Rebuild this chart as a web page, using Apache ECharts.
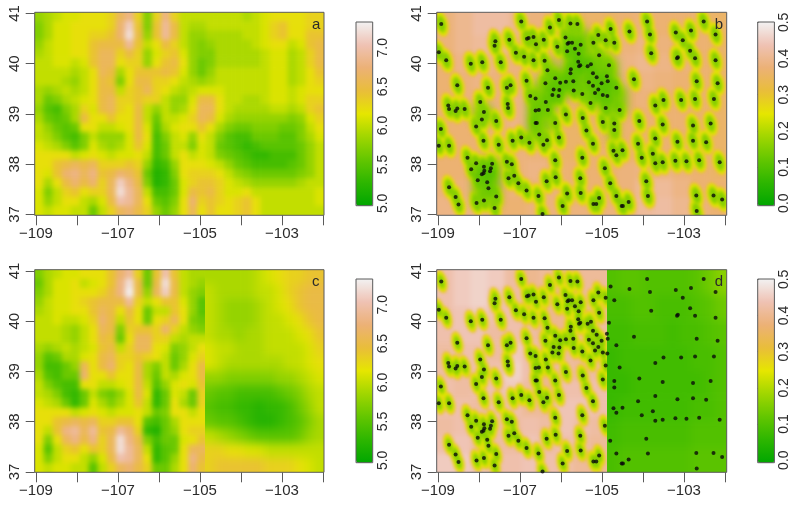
<!DOCTYPE html>
<html><head><meta charset="utf-8">
<style>html,body{margin:0;padding:0;background:#fff;width:800px;height:505px;overflow:hidden}
.clip,.layer,#fg{position:absolute;left:0;top:0;width:800px;height:505px}</style>
<script src="https://cdn.jsdelivr.net/npm/echarts@6/dist/echarts.min.js"></script>
</head><body>
<div id="root"></div>
<div id="fg"></div>
<script>
// ---------- data: surface values ----------
const panelATenths = [
[58,59,60,61,61,62,62,62,63,66,68,63,57,63,68,63,60,60,60,60,60,60,60,59,60,61,62,62,62,62,63,63],
[57,59,61,61,62,62,62,62,63,67,71,64,57,64,69,65,60,59,59,60,60,60,60,60,60,61,63,64,62,62,63,63],
[57,59,61,61,62,62,63,63,64,67,72,65,58,64,69,65,60,58,58,59,59,59,59,60,60,61,63,64,62,62,64,64],
[58,60,61,61,62,62,64,65,65,65,69,64,60,62,65,63,60,58,57,58,59,59,59,59,60,61,62,62,60,61,64,65],
[59,60,61,61,62,62,64,66,66,63,65,63,58,61,63,64,61,58,57,57,59,59,59,59,59,60,61,61,59,60,63,65],
[60,60,61,61,60,61,64,66,66,62,63,63,58,62,64,65,62,58,56,57,59,59,59,59,59,60,61,61,59,60,63,65],
[60,60,60,60,59,60,62,66,65,59,62,64,64,64,65,64,61,58,56,58,60,60,60,60,60,60,61,61,59,60,62,64],
[60,60,60,59,58,60,62,65,64,57,62,65,65,63,63,62,60,59,58,59,60,60,60,60,60,60,61,61,59,60,62,63],
[59,58,59,60,59,60,62,65,65,60,63,64,66,63,62,60,59,60,61,61,61,60,60,60,60,60,61,61,60,61,62,62],
[59,56,57,59,60,61,62,65,66,63,63,64,63,63,60,58,58,61,65,65,62,60,60,59,59,60,61,61,60,61,63,63],
[58,55,54,57,59,63,61,65,66,63,62,65,60,58,60,58,59,62,66,66,62,60,59,59,59,59,60,60,59,60,63,64],
[59,56,55,56,59,65,62,62,64,62,62,65,60,56,60,60,61,63,66,65,61,59,58,58,58,58,58,58,57,58,61,63],
[60,58,56,55,56,62,62,60,60,61,62,65,61,55,59,61,62,62,64,62,59,57,56,56,57,57,57,56,56,57,60,62],
[60,59,57,55,54,57,60,58,58,58,61,65,62,54,57,60,61,58,62,60,57,55,54,54,56,56,56,55,55,57,59,61],
[61,60,59,57,55,57,61,59,58,59,61,64,61,54,56,60,60,57,61,60,56,55,54,53,54,55,55,55,55,56,58,60],
[62,62,62,62,60,61,62,61,60,61,61,62,60,54,56,60,62,60,61,60,57,56,55,54,53,53,54,54,54,56,58,60],
[62,62,64,65,66,65,66,63,63,63,64,63,58,53,54,58,62,62,62,61,60,58,56,55,54,54,54,54,55,56,58,60],
[62,61,64,67,68,66,68,64,65,67,66,64,56,52,53,57,62,63,63,63,62,60,58,57,56,56,56,56,56,57,58,60],
[62,59,62,65,67,65,67,63,66,71,68,65,57,52,53,56,61,63,64,64,63,61,60,59,58,58,58,58,58,59,60,60],
[61,57,60,63,64,62,63,63,66,72,69,66,60,54,54,56,61,65,64,65,63,61,61,62,60,60,60,60,60,60,60,61],
[61,58,60,62,62,60,59,61,65,70,69,66,62,56,55,57,62,67,63,64,63,62,63,64,62,60,60,60,60,60,60,61],
[61,60,61,61,60,60,56,60,63,66,67,65,63,58,56,58,62,66,62,64,62,62,63,64,62,60,60,60,60,60,60,60]];

const panelCWestTenths = [
[57,59,60,61,61,62,62,62,64,67,69,63,56,64,70,64,60,59,59],
[56,59,61,61,62,60,61,62,64,68,72,65,56,65,72,65,60,59,58],
[57,59,61,61,62,62,62,63,65,68,73,65,58,66,71,65,60,58,57],
[58,60,61,61,62,63,64,65,65,65,69,63,60,62,64,64,61,58,55],
[59,60,61,61,62,62,64,66,65,62,65,62,56,60,60,64,62,58,55],
[60,60,61,60,60,61,63,67,65,60,64,62,56,62,63,66,62,57,56],
[60,60,60,59,58,60,62,66,65,57,63,64,64,63,67,63,60,58,57],
[60,60,60,59,58,60,62,65,64,56,62,66,66,63,63,60,59,60,60],
[59,58,59,60,59,60,61,64,65,60,63,66,66,62,61,57,58,60,62],
[58,55,56,59,59,61,62,65,66,63,63,64,63,62,60,56,58,61,63],
[58,54,54,56,58,66,62,65,67,63,62,65,59,57,60,56,59,62,65],
[59,55,54,56,56,67,62,62,64,62,62,65,59,56,60,59,61,62,65],
[60,57,55,54,54,62,62,60,60,61,62,65,60,55,58,61,62,61,64],
[60,59,57,54,53,56,60,57,56,58,61,65,61,53,56,61,60,56,63],
[61,60,59,56,53,56,61,59,57,59,61,64,60,53,56,62,59,56,63],
[62,62,62,62,60,61,62,61,60,61,61,62,60,56,57,62,62,60,62],
[62,62,64,65,66,65,66,63,63,64,64,62,55,54,56,59,62,62,62],
[62,60,64,68,69,66,69,64,65,69,67,63,53,52,56,58,62,63,63],
[62,57,62,66,68,65,68,63,66,72,68,65,57,54,56,56,61,62,64],
[61,55,60,63,64,62,64,63,66,72,69,66,60,53,55,56,62,66,66],
[61,57,60,62,62,60,58,61,65,70,69,66,62,53,55,58,62,68,65],
[61,60,61,61,60,60,55,60,63,66,67,65,63,56,56,59,62,67,64]];

const panelCEastTenths = [
[59,59,59,59,59,60,61,62,63,63,64,64],
[60,59,59,59,59,60,60,61,63,64,65,65],
[60,59,58,58,58,59,60,61,62,64,65,65],
[60,59,58,58,58,59,60,60,61,62,64,65],
[60,59,59,58,59,59,60,60,60,61,62,64],
[61,60,60,59,59,59,60,60,60,60,61,63],
[61,60,59,59,59,59,59,59,60,60,61,62],
[58,58,57,57,57,57,57,58,58,59,60,61],
[56,55,55,54,54,54,54,55,56,57,59,60],
[55,54,54,53,53,52,53,53,54,56,58,60],
[56,55,55,54,53,52,52,53,54,55,57,59],
[60,59,58,57,56,55,55,55,55,56,58,59],
[63,63,62,62,61,61,60,60,60,60,60,60],
[63,64,64,64,64,64,63,63,63,62,61,60]];

const panelBBaseHundredths = [
[38,40,42,42,40,38,37,36,36,36,37,38,37,37,37,36],
[38,40,41,41,39,38,37,36,36,37,38,39,38,37,37,36],
[37,39,40,39,38,38,37,36,36,37,39,40,39,38,37,36],
[37,38,39,38,38,38,37,36,36,36,38,39,38,37,37,36],
[37,38,38,38,39,39,37,36,36,36,37,38,37,37,37,36],
[37,37,38,38,39,39,37,36,36,36,37,37,37,37,36,36],
[37,37,37,38,39,38,37,36,36,36,37,37,37,37,36,36],
[37,37,37,38,38,38,37,36,37,37,37,37,37,37,37,36],
[37,37,37,37,38,39,38,37,37,37,38,39,39,38,37,36],
[38,38,37,37,38,38,38,38,37,37,38,41,41,39,37,37],
[39,39,38,37,37,38,38,38,38,38,39,41,42,40,38,37]];

const panelDWestHundredths = [
[43,45,46,45,42,40,41,41,41,41],
[43,45,46,44,42,41,40,40,41,41],
[43,44,45,43,43,42,40,40,41,41],
[43,44,44,42,43,42,40,40,41,42],
[42,43,43,42,45,43,40,41,41,42],
[42,42,43,43,46,43,40,42,41,42],
[43,42,43,43,45,42,40,43,43,43],
[43,43,42,43,43,41,41,44,44,43],
[42,43,41,42,42,43,42,44,43,42],
[43,44,42,42,42,44,42,43,42,41],
[45,45,44,43,43,44,43,43,41,41]];

const panelDEastHundredths = [
[10,11,11,10,10,10,10,11,13,16],
[9,9,10,10,9,9,9,10,11,13],
[8,8,9,9,9,8,9,9,10,11],
[7,8,8,8,8,8,8,9,9,10],
[7,7,8,8,8,8,8,8,9,10],
[7,8,8,8,8,8,8,9,9,10],
[8,9,9,9,9,9,9,10,10,10],
[9,10,10,10,10,10,10,11,11,11]];

// dense low-value patches of panel b: [column, row, hundredths] on a 32 x 22 cell mesh
const panelBDenseCells = [
[14,1,16],[15,1,16],[14,2,14],[15,2,14],[16,2,14],[10,3,16],[14,3,11],[15,3,11],[16,3,13],
[14,4,11],[15,4,10],[16,4,13],[17,4,16],[18,4,16],[12,5,15],[14,5,13],[15,5,9],[16,5,9],[17,5,12],[18,5,13],[19,5,15],
[12,6,13],[13,6,14],[14,6,11],[15,6,10],[16,6,12],[17,6,11],[18,6,12],[19,6,14],
[11,7,16],[12,7,12],[13,7,11],[14,7,11],[15,7,11],[16,7,13],[17,7,10],[18,7,10],[19,7,11],
[10,8,16],[11,8,14],[12,8,11],[13,8,10],[14,8,12],[15,8,13],[16,8,13],[17,8,11],[18,8,10],[19,8,11],[20,8,15],
[10,9,14],[11,9,13],[12,9,11],[13,9,12],[16,9,15],[17,9,12],[18,9,11],[19,9,12],[20,9,14],
[4,10,16],[5,10,15],[10,10,13],[11,10,12],[12,10,13],[18,10,13],[19,10,13],[20,10,15],
[4,11,16],[5,11,14],[10,11,12],[11,11,13],[12,11,15],[19,11,16],
[10,12,12],[11,12,14],[12,12,16],[19,12,15],[10,13,15],[11,13,15],[19,13,16],
[4,16,15],[5,16,11],[6,16,14],[4,17,11],[5,17,9],[6,17,10],[4,18,13],[5,18,11],[6,18,12],
[4,19,14],[5,19,12],[6,19,13],[4,20,15],[5,20,15],[6,20,15]];

const pointLon = [-108.92,-108.98,-108.80,-108.20,-107.92,-108.53,-107.78,-108.75,-108.73,-108.57,-108.53,-108.35,-107.97,-107.88,-107.93,-108.07,-108.93,-108.98,-108.73,-107.89,-107.58,-107.52,-107.60,-107.62,-107.47,-106.97,-107.26,-107.10,-106.90,-106.83,-106.79,-106.67,-106.61,-106.67,-106.42,-106.40,-106.33,-106.84,-107.32,-107.23,-107.30,-107.29,-106.75,-106.62,-106.37,-106.32,-106.62,-106.54,-106.62,-106.59,-106.53,-106.43,-106.34,-107.18,-106.97,-106.77,-106.14,-106.05,-105.88,-106.27,-106.05,-105.77,-105.60,-106.09,-105.89,-105.84,-105.81,-105.73,-105.66,-105.85,-105.57,-105.52,-105.21,-105.09,-104.79,-104.91,-104.70,-104.33,-103.90,-103.83,-103.80,-104.22,-103.20,-103.03,-102.83,-102.85,-102.73,-103.15,-103.17,-102.23,-102.52,-102.23,-102.69,-102.18,-102.73,-102.27,-103.07,-103.50,-103.70,-103.52,-104.09,-103.70,-104.12,-104.03,-103.76,-103.70,-103.52,-103.21,-102.94,-102.63,-102.78,-102.78,-103.16,-102.46,-102.35,-102.13,-102.70,-102.69,-102.28,-102.07,-103.92,-103.88,-104.35,-104.52,-104.49,-104.65,-104.80,-104.93,-105.07,-105.14,-105.21,-105.52,-105.53,-105.48,-106.14,-106.13,-106.35,-106.55,-106.45,-105.96,-105.85,-107.04,-106.84,-107.28,-107.14,-107.32,-107.20,-107.58,-107.62,-107.88,-108.06,-108.50,-108.57,-108.73,-108.28,-108.07,-108.19,-108.03,-107.88,-107.87,-107.93,-107.89,-107.71,-107.68,-107.73,-107.80,-107.77,-104.72,-104.65,-104.50,-104.70,-104.70,-104.98,-104.57,-104.91,-105.47,-105.38,-105.22,-105.48,-105.28,-105.17,-105.09,-105.01,-105.22,-105.32,-105.13,-105.22,-105.35,-105.27,-104.83,-104.88,-104.86,-104.65,-104.98,-104.87,-105.56,-105.58,-105.53,-105.76,-105.77,-105.88,-105.70,-105.69,-106.14,-106.02,-106.18,-106.04,-106.21,-106.06,-106.38,-105.07];
const pointLat = [40.79,40.23,40.07,40.00,40.03,39.57,39.52,39.17,39.10,39.06,39.11,39.10,39.24,39.04,38.89,38.75,38.70,38.37,38.37,38.47,38.86,38.39,40.45,40.36,40.03,40.84,40.48,40.22,40.14,40.50,40.51,40.53,40.39,40.07,40.48,40.06,39.87,39.66,39.52,39.57,39.20,39.12,39.36,39.31,39.24,39.08,39.07,39.08,38.82,38.82,38.59,38.39,38.48,38.47,38.53,38.43,38.82,38.53,38.99,40.72,40.87,40.80,40.79,40.34,40.52,40.40,40.42,40.42,40.30,40.25,40.20,40.38,40.42,40.57,40.69,40.47,40.42,40.64,40.84,40.58,40.21,39.69,40.62,40.47,40.66,40.26,40.11,40.13,40.11,40.58,40.84,40.07,39.65,39.61,39.30,39.30,39.28,39.28,39.17,38.79,38.86,38.51,38.41,38.13,38.21,38.02,38.04,38.07,38.06,38.08,38.77,38.47,38.45,38.44,38.81,38.04,37.38,37.07,37.38,37.30,37.66,37.37,37.25,37.17,37.17,37.37,37.62,37.92,37.33,37.21,37.21,37.43,37.72,38.13,38.08,37.74,37.66,37.37,37.01,37.17,37.42,37.62,37.48,37.72,37.77,38.05,38.00,37.36,37.13,37.28,37.23,37.20,37.35,37.54,38.13,38.02,37.90,37.68,37.95,37.87,37.80,37.82,37.92,38.01,37.86,37.64,37.52,38.27,38.18,38.28,38.81,38.68,38.84,39.08,39.12,38.92,38.67,38.41,39.40,39.22,39.42,39.49,39.61,39.56,39.63,39.73,39.81,39.95,39.99,39.97,39.75,39.65,39.52,39.38,39.36,39.95,40.04,39.97,39.89,39.81,39.64,39.65,39.47,39.71,39.62,39.49,39.48,39.38,39.36,39.61,40.17];

const lonTicks = [-109,-108,-107,-106,-105,-104,-103,-102];
const lonLabels = [-109,-107,-105,-103];
const latTicks = [37,38,39,40,41];
const scaleTicksA = [5,5.5,6,6.5,7];
const scaleTicksB = [0,0.1,0.2,0.3,0.4,0.5];
const panelLetters = ['a','b','c','d'];

// ---------- layout and styling ----------
const FONT = '"Liberation Sans",Arial,sans-serif';
const INK = '#2a2a2a';
const LINE = '#5a5a5a';
const TERRAIN = ['#00A600','#2DB600','#63C600','#A0D600','#E6E600','#E9BD3A','#ECB176','#EFC2B3','#F2F2F2'];
const rangeA = [4.97,7.33], rangeB = [-0.007,0.501];
const UX = 41, UY = 50.25;
const frames = {
  a:{l:34.7,r:324,t:12.3,b:215.3,x0:36,y41:13.5},
  b:{l:436.7,r:726.7,t:12.3,b:215.3,x0:438,y41:13.5},
  c:{l:34.7,r:324,t:269.7,b:472.3,x0:36,y41:271},
  d:{l:436.7,r:726.7,t:269.7,b:472.3,x0:438,y41:271}
};
const SPLIT_C = 205, SPLIT_D = 607;
const lonAt = (f,px)=>-109+(px-f.x0)/UX;
const latAt = (f,py)=>41-(py-f.y41)/UY;
const PAD = 7;

function rasterLayer(blur, clips, items, alpha){
  const root = document.getElementById('root');
  const clip = document.createElement('div'); clip.className='clip';
  clip.style.clipPath = "path('"+clips.map(c=>`M${c[0]} ${c[1]}H${c[2]}V${c[3]}H${c[0]}Z`).join(' ')+"')";
  const layer = document.createElement('div'); layer.className='layer';
  layer.style.filter = `blur(${blur}px)`;
  if(alpha) layer.style.opacity = alpha;
  clip.appendChild(layer); root.appendChild(clip);
  const chart = echarts.init(layer,null,{renderer:'canvas',width:800,height:505});
  const opt = {animation:false,grid:[],xAxis:[],yAxis:[],series:[],visualMap:[]};
  items.forEach(it=>{
    const i = opt.grid.length, [l,t,r,b]=it.rect;
    const hide={show:false};
    if(it.dots){
      const f=it.frame;
      opt.grid.push({left:l-PAD,top:t-PAD,width:r-l+2*PAD,height:b-t+2*PAD,show:false});
      opt.xAxis.push({type:'value',gridIndex:i,min:lonAt(f,l-PAD),max:lonAt(f,r+PAD),axisLine:hide,axisTick:hide,axisLabel:hide,splitLine:hide});
      opt.yAxis.push({type:'value',gridIndex:i,min:latAt(f,b+PAD),max:latAt(f,t-PAD),axisLine:hide,axisTick:hide,axisLabel:hide,splitLine:hide});
      it.dots.forEach((d,k)=>opt.series.push({type:'scatter',xAxisIndex:i,yAxisIndex:i,data:it.points,silent:true,z:k+2,
        symbol:'path://M0,-1A1,1 0 1,1 0,1A1,1 0 1,1 0,-1Z',symbolKeepAspect:false,symbolSize:d.size,symbolRotate:14,
        itemStyle:{color:d.color,opacity:1}}));
      return;
    }
    // one extra cell on every side, so the blur has colour to draw on at the frame edge
    const cols=it.cols, rows=it.rows, cw=(r-l)/cols, ch=(b-t)/rows;
    opt.grid.push({left:l-cw,top:t-ch,width:r-l+2*cw,height:b-t+2*ch,show:false});
    opt.xAxis.push({type:'category',gridIndex:i,data:Array.from({length:cols+2},(_,k)=>k),axisLine:hide,axisTick:hide,axisLabel:hide,splitLine:hide});
    opt.yAxis.push({type:'category',gridIndex:i,inverse:true,data:Array.from({length:rows+2},(_,k)=>k),axisLine:hide,axisTick:hide,axisLabel:hide,splitLine:hide});
    const sIdx=opt.series.length;
    opt.series.push({type:'heatmap',xAxisIndex:i,yAxisIndex:i,data:it.data,silent:true,z:1,progressive:0});
    opt.visualMap.push({show:false,seriesIndex:sIdx,dimension:2,min:it.range[0],max:it.range[1],inRange:{color:TERRAIN}});
  });
  chart.setOption(opt);
}
function cells(rows,div){
  const out=[], R=rows.length, C=rows[0].length;
  for(let j=-1;j<=R;j++)for(let i=-1;i<=C;i++){
    const v=rows[Math.min(R-1,Math.max(0,j))][Math.min(C-1,Math.max(0,i))];
    out.push([i+1,j+1,v/div]);
  }
  return out;
}
const grid = (rows,div,rect,range)=>({rect,cols:rows[0].length,rows:rows.length,data:cells(rows,div),range});
const rect = f=>[f.l,f.t,f.r,f.b];
const allPoints = pointLon.map((x,i)=>[x,pointLat[i]]);
const westPoints = allPoints.filter(p=>p[0]<-104.88);

// smooth surfaces
rasterLayer(2.4,[rect(frames.a),rect(frames.b),[frames.c.l,frames.c.t,SPLIT_C,frames.c.b],[frames.d.l,frames.d.t,SPLIT_D,frames.d.b]],[
  grid(panelATenths,10,rect(frames.a),rangeA),
  grid(panelBBaseHundredths,100,rect(frames.b),rangeB),
  grid(panelCWestTenths,10,[frames.c.l,frames.c.t,206.5,frames.c.b],rangeA),
  grid(panelDWestHundredths,100,[frames.d.l,frames.d.t,SPLIT_D,frames.d.b],rangeB)
]);
rasterLayer(5,[[SPLIT_C,frames.c.t,frames.c.r,frames.c.b],[SPLIT_D,frames.d.t,frames.d.r,frames.d.b]],[
  grid(panelCEastTenths,10,[SPLIT_C,frames.c.t,frames.c.r,frames.c.b],rangeA),
  grid(panelDEastHundredths,100,[SPLIT_D,frames.d.t,frames.d.r,frames.d.b],rangeB)
]);
// halos around the stations
rasterLayer(1.4,[rect(frames.b),[frames.d.l,frames.d.t,SPLIT_D,frames.d.b]],[
  {frame:frames.b,rect:rect(frames.b),points:allPoints,dots:[
    {size:[15,27],color:'#E9BD3A'},{size:[12.5,24],color:'#E6E600'},{size:[10,20],color:'#B8DC00'},{size:[7,15],color:'#86CE00'}]},
  {frame:frames.d,rect:[frames.d.l,frames.d.t,SPLIT_D,frames.d.b],points:westPoints,dots:[
    {size:[12,24],color:'#E9BD3A'},{size:[10,21],color:'#E6E600'},{size:[7.5,17],color:'#B8DC00'},{size:[5,12],color:'#86CE00'}]}
]);
// dense low-value patches in panel b
rasterLayer(4.5,[rect(frames.b)],[
  {rect:rect(frames.b),cols:32,rows:22,data:panelBDenseCells.map(c=>[c[0]+1,c[1]+1,c[2]/100]),range:rangeB}
],0.9);

// ---------- axes, frames, stations, scales ----------
const fg = echarts.init(document.getElementById('fg'),null,{renderer:'canvas',width:800,height:505});
const opt = {animation:false,backgroundColor:'transparent',grid:[],xAxis:[],yAxis:[],series:[],visualMap:[],graphic:[]};
const tickStyle = {lineStyle:{color:LINE,width:1}};
const txt = {color:INK,fontFamily:FONT};
['a','b','c','d'].forEach((k,n)=>{
  const f=frames[k], i=opt.grid.length;
  opt.grid.push({left:f.l,top:f.t,width:f.r-f.l,height:f.b-f.t,show:true,borderColor:LINE,borderWidth:1,backgroundColor:'transparent',z:8});
  opt.xAxis.push({type:'value',gridIndex:i,min:lonAt(f,f.l),max:lonAt(f,f.r),splitLine:{show:false},axisLine:{show:false},
    axisTick:{show:true,length:10,customValues:lonTicks,...tickStyle},
    axisLabel:{show:true,customValues:lonLabels,margin:11.5,fontSize:15,...txt,formatter:v=>String(v).replace('-','\u2212')}});
  opt.yAxis.push({type:'value',gridIndex:i,min:latAt(f,f.b),max:latAt(f,f.t),splitLine:{show:false},axisLine:{show:false},
    axisTick:{show:true,length:9,customValues:latTicks,...tickStyle},
    axisLabel:{show:true,customValues:latTicks,rotate:90,margin:12.5,fontSize:15,...txt,formatter:v=>String(v)}});
  if(k==='b'||k==='d') opt.series.push({type:'scatter',xAxisIndex:i,yAxisIndex:i,data:allPoints,symbol:'circle',symbolSize:4,silent:true,itemStyle:{color:'#0a0a0a'},z:10});
  opt.graphic.push({type:'text',left:f.r-12,top:f.t+5,z:20,style:{text:panelLetters[n],fontSize:15,fill:INK,fontFamily:FONT}});
});
const bars = [
 {l:356,t:22,range:rangeA,ticks:scaleTicksA},
 {l:757.7,t:22,range:rangeB,ticks:scaleTicksB},
 {l:356,t:279,range:rangeA,ticks:scaleTicksA},
 {l:757.7,t:279,range:rangeB,ticks:scaleTicksB}];
bars.forEach(b=>{
  const i=opt.grid.length, w=16.7, h=183.7;
  opt.grid.push({left:b.l,top:b.t,width:w,height:h,show:true,borderColor:LINE,borderWidth:1,backgroundColor:'transparent',z:8});
  opt.xAxis.push({type:'value',gridIndex:i,min:0,max:1,show:false});
  opt.yAxis.push({type:'value',gridIndex:i,position:'right',min:b.range[0],max:b.range[1],splitLine:{show:false},axisLine:{show:false},
    axisTick:{show:true,length:7,customValues:b.ticks,...tickStyle},
    axisLabel:{show:true,customValues:b.ticks,rotate:90,margin:3,fontSize:14,...txt,formatter:v=>v.toFixed(1)}});
  opt.visualMap.push({type:'continuous',seriesIndex:[],left:b.l,top:b.t,itemWidth:w,itemHeight:h,padding:0,min:b.range[0],max:b.range[1],
    calculable:false,hoverLink:false,text:null,showLabel:false,inRange:{color:TERRAIN},z:4});
});
fg.setOption(opt);
</script>
</body></html>
